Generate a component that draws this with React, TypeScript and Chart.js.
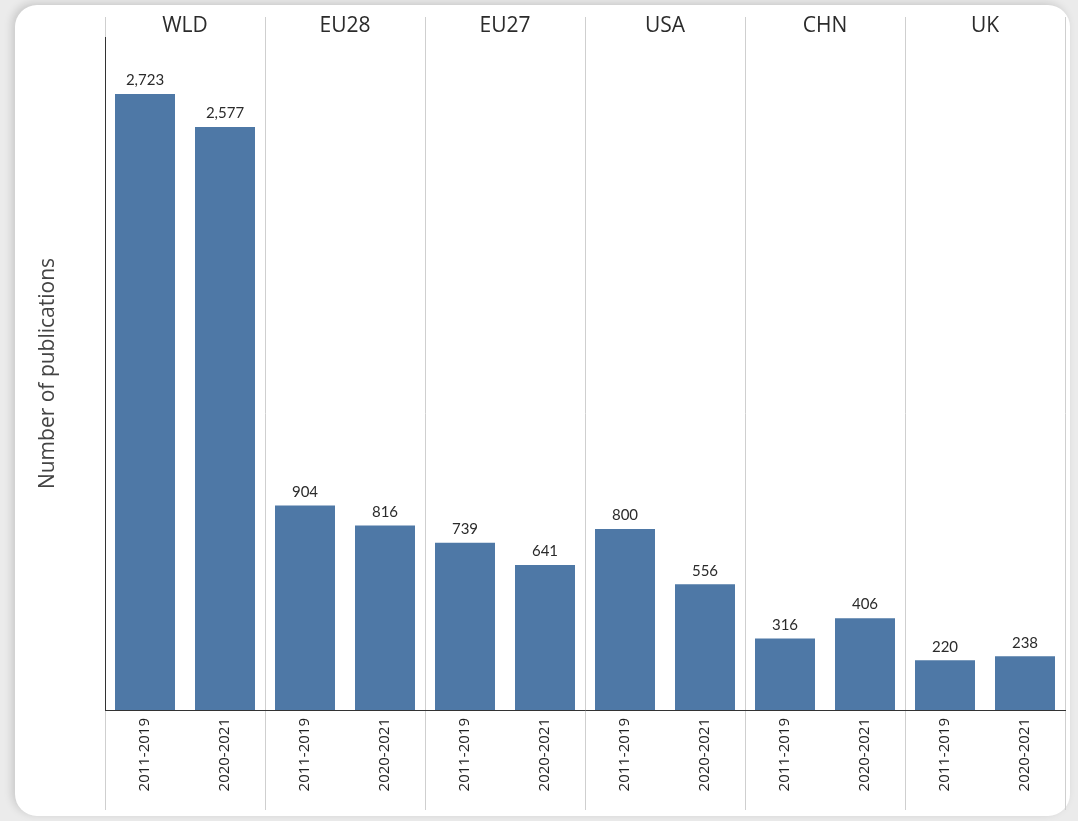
import React, { useEffect, useRef } from 'react';
import { Chart, registerables } from 'chart.js';

Chart.register(...registerables);

const groups = ['WLD', 'EU28', 'EU27', 'USA', 'CHN', 'UK'];
const periods = ['2011-2019', '2020-2021'];
const values2011 = [2723, 904, 739, 800, 316, 220];
const values2020 = [2577, 816, 641, 556, 406, 238];
const yTitle = 'Number of publications';

const labels = groups.flatMap(() => periods);
const data = groups.flatMap((_, i) => [values2011[i], values2020[i]]);

const fmt = (v: number) => v.toLocaleString('en-US');

const overlayPlugin = {
  id: 'overlay',
  beforeDraw(chart: any) {
    const { ctx } = chart;
    const xs = chart.scales.x;
    const n = labels.length;
    const cw = (xs.right - xs.left) / n;
    ctx.save();
    ctx.strokeStyle = '#cfcfcf';
    ctx.lineWidth = 1;
    for (let i = 0; i <= groups.length; i++) {
      const x = Math.round(xs.left + 2 * i * cw) + 0.5;
      ctx.beginPath();
      ctx.moveTo(x, 17);
      ctx.lineTo(x, 810);
      ctx.stroke();
    }
    ctx.restore();
  },
  afterDraw(chart: any) {
    const { ctx } = chart;
    const xs = chart.scales.x;
    const n = labels.length;
    const cw = (xs.right - xs.left) / n;
    ctx.save();
    // group labels
    ctx.fillStyle = '#2b2b2b';
    ctx.font = '21px "Open Sans", Lato, sans-serif';
    ctx.textAlign = 'center';
    ctx.textBaseline = 'middle';
    groups.forEach((g, i) => {
      ctx.fillText(g, xs.left + (2 * i + 1) * cw, 26);
    });
    // value labels
    const meta = chart.getDatasetMeta(0);
    ctx.font = '15px Lato, "Open Sans", sans-serif';
    ctx.textBaseline = 'bottom';
    meta.data.forEach((el: any, i: number) => {
      ctx.fillText(fmt(data[i]), el.x, el.y - 6);
    });
    // y title
    const ys = chart.scales.y;
    ctx.translate(48, (ys.top + ys.bottom) / 2);
    ctx.rotate(-Math.PI / 2);
    ctx.font = '21px "Open Sans", sans-serif';
    ctx.fillStyle = '#444444';
    ctx.textBaseline = 'middle';
    ctx.fillText(yTitle, 0, 0);
    ctx.restore();
  },
};

export default function App() {
  const ref = useRef<HTMLCanvasElement>(null);
  useEffect(() => {
    document.body.style.margin = '0';
    const chart = new Chart(ref.current!, {
      type: 'bar',
      data: {
        labels,
        datasets: [
          {
            data,
            backgroundColor: '#4e78a6',
            borderWidth: 0,
            barPercentage: 0.75,
            categoryPercentage: 1,
          },
        ],
      },
      options: {
        responsive: false,
        animation: false,
        layout: { padding: { left: 0, top: 37, right: 13, bottom: 11 } },
        plugins: { legend: { display: false }, tooltip: { enabled: false } },
        scales: {
          x: {
            grid: { display: false, drawTicks: false },
            border: { display: true, color: '#333333', width: 1 },
            ticks: {
              autoSkip: false,
              maxRotation: 90,
              minRotation: 90,
              padding: 8,
              color: '#222222',
              font: { size: 15, family: '"Open Sans", Lato, sans-serif' },
            },
            afterFit(scale: any) {
              scale.height = 100;
            },
          },
          y: {
            min: 0,
            max: 2975,
            grid: { display: false, drawTicks: false },
            border: { display: true, color: '#333333', width: 1 },
            ticks: { display: false },
            afterFit(scale: any) {
              scale.width = 105;
            },
          },
        },
      },
      plugins: [overlayPlugin],
    });
    return () => chart.destroy();
  }, []);

  return (
    <div style={{ position: 'relative', width: 1078, height: 821, background: '#ebebeb', overflow: 'hidden' }}>
      <div
        style={{
          position: 'absolute',
          left: 15,
          top: 5,
          width: 1055,
          height: 811,
          background: '#ffffff',
          borderRadius: 22,
          boxShadow: '-3px -2px 8px rgba(0,0,0,0.15)',
        }}
      />
      <canvas ref={ref} width={1078} height={821} style={{ position: 'absolute', left: 0, top: 0, display: 'block' }} />
    </div>
  );
}
